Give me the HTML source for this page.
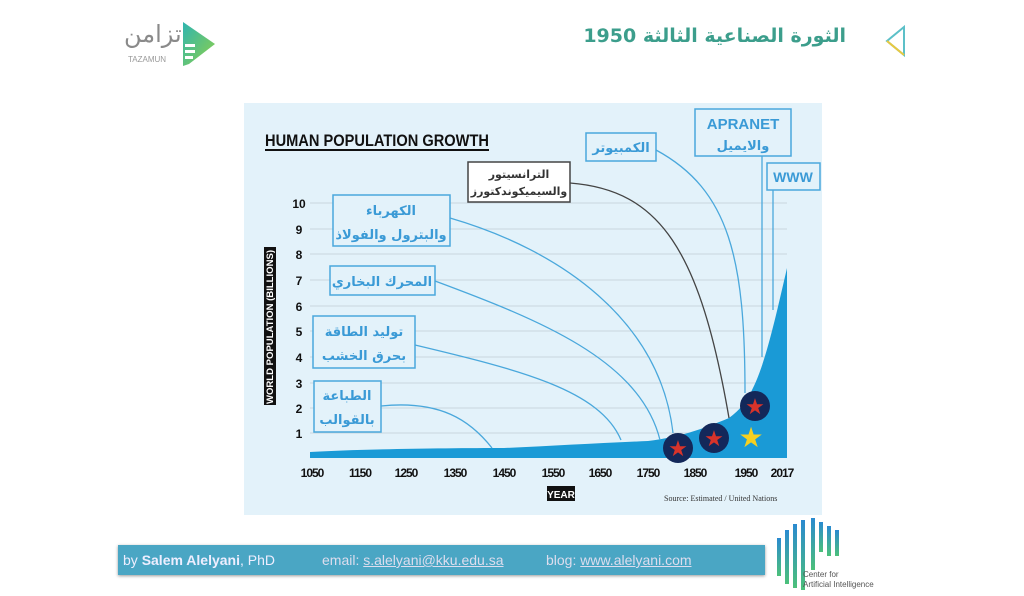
<!DOCTYPE html>
<html><head><meta charset="utf-8"><style>
body{margin:0;width:1024px;height:596px;background:#fff;position:relative;overflow:hidden;font-family:"Liberation Sans","Noto Sans CJK SC",sans-serif}
.a{position:absolute}
</style></head><body>
<!-- header -->
<div class="a" style="right:178px;top:25px;white-space:nowrap;font:bold 19px 'DejaVu Sans',sans-serif;color:#3c9e8c;direction:rtl">الثورة الصناعية الثالثة 1950</div>
<svg class="a" style="left:882px;top:24px" width="28" height="34"><path d="M22 3 L5 17 L22 31 Z" fill="none" stroke="#5cc0c8" stroke-width="2"/><path d="M5 17 L22 31" stroke="#e8c840" stroke-width="2"/></svg>
<div class="a" style="left:124px;top:20px;white-space:nowrap;font:24px 'DejaVu Sans',sans-serif;color:#8a8a8a;width:56px;text-align:right">تزامن</div>
<div class="a" style="left:128px;top:55px;font:8px 'Liberation Sans',sans-serif;color:#999">TAZAMUN</div>
<svg class="a" style="left:181px;top:20px" width="36" height="48"><defs><linearGradient id="g1" x1="0" y1="0" x2="1" y2="1"><stop offset="0" stop-color="#2fb5b0"/><stop offset="1" stop-color="#8fd048"/></linearGradient></defs><path d="M2 2 L34 24 L8 44 L2 46Z" fill="url(#g1)"/><rect x="4" y="24" width="10" height="3" fill="#fff"/><rect x="4" y="30" width="10" height="3" fill="#fff"/><rect x="4" y="36" width="8" height="3" fill="#fff"/></svg>

<!-- chart -->
<svg class="a" style="left:0;top:0" width="1024" height="596" font-family="Liberation Sans, DejaVu Sans, sans-serif">
<rect x="244" y="103" width="578" height="412" fill="#e3f2fa"/>
<text x="265" y="146" font-size="17" font-weight="bold" fill="#111" textLength="224" lengthAdjust="spacingAndGlyphs">HUMAN POPULATION GROWTH</text>
<line x1="265" y1="150" x2="489" y2="150" stroke="#111" stroke-width="2"/>
<g stroke="#c8d6de" stroke-width="1">
<line x1="310" y1="203" x2="787" y2="203"/><line x1="310" y1="229" x2="787" y2="229"/><line x1="310" y1="254" x2="787" y2="254"/><line x1="310" y1="280" x2="787" y2="280"/><line x1="310" y1="306" x2="787" y2="306"/><line x1="310" y1="331" x2="787" y2="331"/><line x1="310" y1="357" x2="787" y2="357"/><line x1="310" y1="383" x2="787" y2="383"/><line x1="310" y1="408" x2="787" y2="408"/><line x1="310" y1="433" x2="787" y2="433"/>
</g>
<g font-size="12" font-weight="bold" fill="#111" text-anchor="middle">
<text x="299" y="208">10</text><text x="299" y="234">9</text><text x="299" y="259">8</text><text x="299" y="285">7</text><text x="299" y="311">6</text><text x="299" y="336">5</text><text x="299" y="362">4</text><text x="299" y="388">3</text><text x="299" y="413">2</text><text x="299" y="438">1</text>
</g>
<rect x="264" y="247" width="12" height="158" fill="#111"/>
<text transform="translate(273,404) rotate(-90)" font-size="9" font-weight="bold" fill="#fff" textLength="154" lengthAdjust="spacingAndGlyphs">WORLD POPULATION (BILLIONS)</text>
<path d="M310 458 L310 452 C360 449 450 448 504 448 C550 446 600 443 648 441 C680 437 700 430 729 418 C740 410 748 400 752 390 C765 365 775 320 787 268 L787 458 Z" fill="#1a9ad6"/>
<g font-size="12" font-weight="bold" fill="#111" text-anchor="middle" letter-spacing="-1">
<text x="312" y="477">1050</text><text x="360" y="477">1150</text><text x="406" y="477">1250</text><text x="455" y="477">1350</text><text x="504" y="477">1450</text><text x="553" y="477">1550</text><text x="600" y="477">1650</text><text x="648" y="477">1750</text><text x="695" y="477">1850</text><text x="746" y="477">1950</text><text x="782" y="477">2017</text>
</g>
<rect x="547" y="486" width="28" height="15" fill="#111"/>
<text x="561" y="498" font-size="10" font-weight="bold" fill="#fff" text-anchor="middle">YEAR</text>
<text x="664" y="501" font-size="8" fill="#333" font-family="Liberation Serif, serif">Source: Estimated / United Nations</text>
<!-- arrows -->
<g fill="none" stroke="#4aa8dc" stroke-width="1.3">
<path d="M381 406 C440 400 470 420 492 448"/>
<path d="M415 345 C520 370 600 390 621 440"/>
<path d="M435 281 C540 320 640 360 660 440"/>
<path d="M450 218 C560 250 660 320 673 433"/>
<path d="M656 150 C730 190 745 260 745 393"/>
<path d="M762 156 L762 357"/>
<path d="M773 190 L773 310"/>
</g>
<path d="M570 183 C660 190 700 250 729 418" fill="none" stroke="#444" stroke-width="1.3"/>
<!-- stars -->
<g>
<circle cx="678" cy="448" r="15" fill="#13285a"/><circle cx="714" cy="438" r="15" fill="#13285a"/><circle cx="755" cy="406" r="15" fill="#13285a"/>
<text x="678" y="456" font-size="22" fill="#d8332a" text-anchor="middle" font-family="DejaVu Sans">★</text>
<text x="714" y="446" font-size="22" fill="#d8332a" text-anchor="middle" font-family="DejaVu Sans">★</text>
<text x="755" y="414" font-size="22" fill="#d8332a" text-anchor="middle" font-family="DejaVu Sans">★</text>
<text x="751" y="447" font-size="28" fill="#f5d020" text-anchor="middle" font-family="DejaVu Sans">★</text>
</g>
<!-- boxes -->
<g fill="#e3f2fa" stroke="#4aa8dc" stroke-width="1.5">
<rect x="333" y="195" width="117" height="51"/><rect x="330" y="266" width="105" height="29"/><rect x="313" y="316" width="102" height="52"/><rect x="314" y="381" width="67" height="51"/><rect x="586" y="133" width="70" height="28"/><rect x="695" y="109" width="96" height="47"/><rect x="767" y="163" width="53" height="27"/>
</g>
<rect x="468" y="162" width="102" height="40" fill="#fff" stroke="#444" stroke-width="1.5"/>
<g font-family="DejaVu Sans, sans-serif" font-weight="bold" fill="#3a9ad6" text-anchor="middle" font-size="13">
<text x="391" y="215">الكهرباء</text><text x="391" y="239">والبترول والفولاذ</text>
<text x="382" y="286">المحرك البخاري</text>
<text x="364" y="336">توليد الطاقة</text><text x="364" y="360">بحرق الخشب</text>
<text x="347" y="400">الطباعة</text><text x="347" y="424">بالقوالب</text>
<text x="621" y="152">الكمبيوتر</text>
<text x="743" y="150">والايميل</text>
</g>
<text x="743" y="129" font-size="15" font-weight="bold" fill="#3a9ad6" text-anchor="middle">APRANET</text>
<text x="793" y="182" font-size="14" font-weight="bold" fill="#3a9ad6" text-anchor="middle">WWW</text>
<g font-family="DejaVu Sans, sans-serif" font-weight="bold" fill="#333" text-anchor="middle" font-size="11">
<text x="519" y="178">الترانسيتور</text><text x="519" y="195">والسيميكوندكتورز</text>
</g>
</svg>

<!-- footer -->
<div class="a" style="left:118px;top:545px;width:647px;height:30px;background:#4aa6c4;box-shadow:0 1px 3px #999"></div>
<div class="a" style="left:123px;top:552px;font-size:14px;color:#eef;white-space:nowrap">by <b>Salem Alelyani</b>, PhD</div>
<div class="a" style="left:322px;top:552px;font-size:14px;color:#dde;white-space:nowrap">email: <u>s.alelyani@kku.edu.sa</u></div>
<div class="a" style="left:546px;top:552px;font-size:14px;color:#dde;white-space:nowrap">blog: <u>www.alelyani.com</u></div>
<svg class="a" style="left:775px;top:516px" width="90" height="80"><defs><linearGradient id="g2" x1="0" y1="0" x2="0" y2="1"><stop offset="0" stop-color="#2a8ad0"/><stop offset="1" stop-color="#4cc07a"/></linearGradient></defs>
<g fill="url(#g2)"><rect x="2" y="22" width="4" height="38"/><rect x="10" y="14" width="4" height="54"/><rect x="18" y="8" width="4" height="64"/><rect x="26" y="4" width="4" height="70"/><rect x="36" y="2" width="4" height="52"/><rect x="44" y="6" width="4" height="30"/><rect x="52" y="10" width="4" height="30"/><rect x="60" y="14" width="4" height="26"/></g></svg>
<div class="a" style="left:803px;top:570px;font-size:8px;color:#555;line-height:10px">Center for<br>Artificial Intelligence</div>
</body></html>
